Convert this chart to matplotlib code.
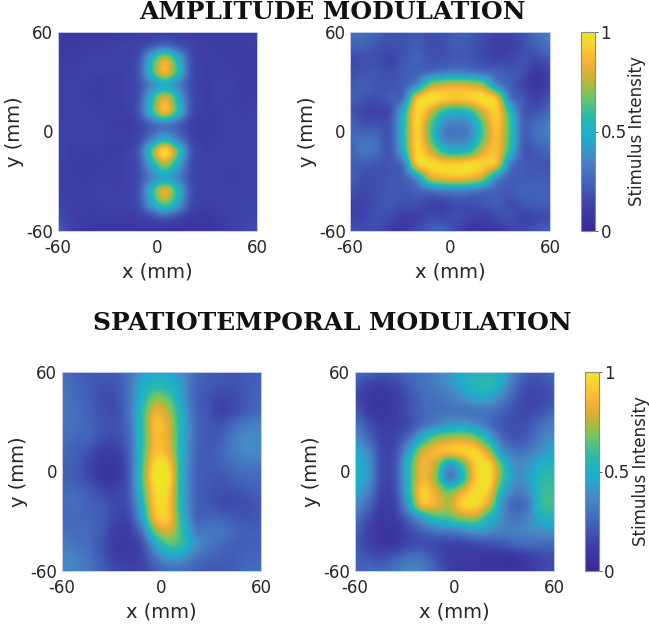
import numpy as np
import matplotlib
matplotlib.use("Agg")
import matplotlib.pyplot as plt
from matplotlib.colors import LinearSegmentedColormap

# grid positions in mm, values are stimulus intensity
grid_x = np.arange(-60, 61, 8)
grid_y = np.arange(60, -61, -8)

# top left, four spots along x=4
amp_line = [
    [.10, .10, .09, .09, .09, .10, .11, .12, .12, .12, .11, .11, .11, .11, .11, .12],
    [.10, .09, .10, .11, .12, .13, .14, .20, .26, .20, .14, .12, .11, .10, .11, .12],
    [.11, .11, .12, .13, .13, .13, .18, .50, .76, .50, .18, .12, .12, .11, .10, .12],
    [.12, .12, .13, .13, .13, .13, .20, .56, .85, .56, .19, .12, .12, .12, .10, .12],
    [.12, .13, .12, .11, .12, .13, .17, .36, .48, .36, .17, .12, .13, .13, .11, .12],
    [.12, .13, .12, .11, .12, .13, .19, .52, .80, .52, .19, .12, .13, .12, .11, .12],
    [.12, .13, .13, .12, .12, .12, .20, .55, .85, .55, .19, .12, .12, .13, .12, .13],
    [.13, .13, .13, .13, .12, .11, .14, .24, .32, .24, .13, .10, .12, .13, .13, .13],
    [.14, .13, .13, .13, .12, .12, .15, .32, .46, .32, .15, .11, .12, .13, .13, .13],
    [.14, .12, .12, .12, .11, .13, .21, .62, .97, .62, .21, .13, .13, .13, .13, .13],
    [.13, .12, .10, .11, .12, .13, .18, .47, .72, .47, .18, .13, .13, .13, .13, .13],
    [.13, .12, .11, .12, .12, .13, .17, .35, .46, .35, .17, .13, .13, .12, .13, .13],
    [.13, .12, .12, .13, .13, .13, .19, .53, .82, .53, .19, .13, .14, .13, .13, .13],
    [.14, .13, .12, .12, .13, .13, .17, .43, .63, .43, .17, .12, .13, .13, .14, .14],
    [.17, .13, .11, .11, .11, .11, .12, .16, .22, .16, .11, .09, .11, .13, .14, .15],
    [.24, .13, .10, .09, .09, .09, .09, .09, .08, .08, .07, .08, .10, .13, .15, .17],
]

# top right, square ring
amp_ring = [
    [.28, .28, .24, .20, .20, .20, .19, .20, .22, .22, .18, .16, .15, .20, .28, .34],
    [.24, .24, .20, .18, .19, .22, .18, .18, .22, .20, .16, .12, .12, .18, .24, .30],
    [.16, .18, .18, .14, .20, .24, .20, .19, .21, .20, .17, .14, .15, .18, .17, .22],
    [.18, .19, .20, .17, .22, .24, .27, .31, .33, .31, .27, .24, .21, .18, .10, .15],
    [.20, .22, .20, .19, .23, .38, .70, .78, .80, .78, .70, .38, .24, .15, .08, .14],
    [.23, .20, .18, .22, .30, .86, .98, .93, .90, .93, .98, .86, .33, .20, .13, .20],
    [.20, .15, .14, .18, .50, .94, .80, .58, .52, .58, .80, .92, .55, .22, .20, .26],
    [.24, .20, .20, .20, .54, .94, .66, .38, .34, .38, .66, .90, .60, .25, .28, .33],
    [.26, .28, .26, .20, .54, .94, .66, .36, .33, .38, .66, .88, .60, .24, .28, .32],
    [.24, .30, .28, .20, .50, .94, .80, .58, .52, .58, .80, .88, .55, .22, .22, .26],
    [.22, .22, .20, .20, .30, .88, .96, .94, .94, .96, .94, .84, .33, .22, .20, .20],
    [.22, .18, .18, .20, .23, .40, .76, .84, .86, .84, .72, .38, .24, .22, .22, .22],
    [.18, .16, .18, .20, .20, .24, .28, .32, .34, .32, .27, .24, .21, .24, .24, .24],
    [.14, .14, .18, .20, .18, .18, .14, .14, .18, .18, .20, .22, .18, .20, .22, .22],
    [.14, .15, .18, .16, .11, .12, .17, .16, .18, .14, .12, .16, .18, .14, .16, .18],
    [.20, .18, .18, .12, .11, .17, .22, .24, .15, .09, .08, .10, .14, .16, .20, .24],
]

# bottom left, vertical bar
st_line = [
    [.28, .24, .22, .21, .22, .30, .42, .48, .46, .38, .28, .22, .21, .20, .22, .24],
    [.29, .26, .22, .19, .20, .30, .47, .55, .52, .40, .26, .21, .19, .19, .22, .24],
    [.31, .27, .23, .18, .18, .30, .52, .70, .64, .44, .25, .19, .15, .17, .22, .26],
    [.31, .28, .24, .19, .18, .30, .57, .82, .74, .48, .26, .19, .14, .18, .24, .28],
    [.30, .28, .25, .20, .19, .28, .58, .88, .80, .50, .28, .21, .20, .27, .33, .34],
    [.28, .26, .24, .18, .17, .26, .57, .86, .80, .50, .28, .21, .23, .33, .37, .37],
    [.26, .23, .18, .12, .12, .24, .58, .88, .82, .50, .27, .22, .26, .33, .37, .36],
    [.24, .22, .15, .09, .09, .22, .60, .97, .92, .50, .26, .22, .24, .28, .31, .31],
    [.24, .22, .16, .09, .09, .22, .62, 1.0, .96, .50, .26, .21, .20, .24, .26, .27],
    [.26, .26, .22, .16, .14, .22, .58, .95, .92, .50, .26, .20, .18, .19, .22, .24],
    [.26, .27, .24, .21, .16, .20, .52, .92, .90, .50, .26, .21, .17, .17, .18, .21],
    [.26, .26, .25, .22, .15, .16, .44, .86, .90, .54, .27, .25, .24, .21, .20, .22],
    [.28, .27, .26, .21, .12, .12, .30, .68, .78, .58, .34, .31, .30, .25, .23, .23],
    [.33, .30, .27, .19, .11, .10, .18, .46, .62, .58, .40, .31, .26, .23, .23, .24],
    [.35, .34, .29, .21, .13, .11, .15, .30, .42, .40, .30, .25, .23, .23, .25, .26],
    [.36, .35, .31, .23, .16, .14, .15, .22, .27, .27, .24, .21, .21, .23, .27, .28],
]

# bottom right, uneven ring with side lobes
st_ring = [
    [.28, .24, .20, .22, .26, .30, .34, .40, .50, .54, .56, .50, .32, .22, .22, .26],
    [.20, .14, .12, .15, .22, .28, .32, .38, .46, .54, .56, .44, .28, .18, .18, .22],
    [.16, .10, .08, .11, .18, .26, .29, .32, .38, .44, .44, .34, .22, .15, .16, .20],
    [.22, .12, .08, .11, .18, .25, .28, .30, .30, .30, .30, .24, .18, .16, .20, .26],
    [.30, .20, .12, .12, .17, .28, .36, .42, .44, .40, .30, .21, .18, .20, .28, .34],
    [.38, .26, .14, .15, .28, .50, .68, .74, .76, .70, .50, .28, .20, .24, .34, .40],
    [.46, .36, .16, .18, .44, .76, .86, .88, .92, .94, .76, .42, .30, .32, .40, .46],
    [.50, .40, .17, .20, .54, .84, .76, .44, .60, .92, .96, .62, .38, .40, .50, .54],
    [.50, .40, .17, .20, .54, .84, .72, .34, .52, .90, .98, .64, .40, .42, .56, .58],
    [.46, .34, .15, .18, .52, .92, .82, .66, .80, .96, .92, .52, .34, .38, .58, .60],
    [.38, .26, .12, .15, .44, .84, .84, .74, .92, .96, .78, .42, .25, .32, .58, .60],
    [.30, .18, .10, .12, .26, .44, .58, .62, .70, .72, .54, .38, .30, .36, .50, .54],
    [.24, .14, .08, .09, .16, .24, .30, .32, .36, .40, .38, .34, .34, .36, .38, .40],
    [.22, .14, .09, .10, .16, .18, .16, .14, .14, .16, .18, .20, .24, .26, .26, .26],
    [.24, .20, .18, .22, .28, .28, .20, .12, .10, .10, .08, .08, .08, .12, .16, .18],
    [.24, .26, .26, .30, .36, .34, .24, .14, .09, .08, .07, .07, .07, .10, .15, .18],
]

titles = ["AMPLITUDE MODULATION", "SPATIOTEMPORAL MODULATION"]
ticks = [-60, 0, 60]
cbar_ticks = [0, 0.5, 1]
cbar_labels = ["0", "0.5", "1"]

# parula like map, taken off the colorbar
cmap = LinearSegmentedColormap.from_list("parula_ish", [
    (0.00, (0.22, 0.16, 0.58)),
    (0.12, (0.24, 0.24, 0.65)),
    (0.25, (0.26, 0.40, 0.73)),
    (0.37, (0.28, 0.54, 0.77)),
    (0.47, (0.12, 0.68, 0.80)),
    (0.57, (0.16, 0.72, 0.68)),
    (0.67, (0.42, 0.78, 0.42)),
    (0.75, (0.72, 0.72, 0.22)),
    (0.80, (0.88, 0.68, 0.22)),
    (0.87, (0.98, 0.72, 0.20)),
    (0.95, (0.97, 0.84, 0.18)),
    (1.00, (0.93, 0.90, 0.15)),
])

W, H = 649, 626
plt.rcParams["font.family"] = "DejaVu Sans"
plt.rcParams["axes.unicode_minus"] = False
fig = plt.figure(figsize=(W / 100, H / 100), dpi=100)
TICK_COLOR = "#262626"


def px_axes(x0, y0, x1, y1):
    # pixel box, y counted from the top
    return fig.add_axes([x0 / W, 1 - y1 / H, (x1 - x0) / W, (y1 - y0) / H])


def heat(box, values):
    ax = px_axes(*box)
    step = grid_x[1] - grid_x[0]
    im = ax.imshow(np.array(values), cmap=cmap, vmin=0, vmax=1, interpolation="catrom",
                   extent=[grid_x[0] - step / 2, grid_x[-1] + step / 2,
                           grid_y[-1] - step / 2, grid_y[0] + step / 2],
                   aspect="auto", origin="upper")
    ax.set_xlim(-60, 60)
    ax.set_ylim(-60, 60)
    ax.set_xticks(ticks)
    ax.set_yticks(ticks)
    ax.tick_params(length=0, labelsize=12, colors=TICK_COLOR)
    ax.tick_params(axis="x", pad=6)
    ax.tick_params(axis="y", pad=3)
    ax.set_xlabel("x (mm)", fontsize=14, color=TICK_COLOR, labelpad=4)
    ax.set_ylabel("y (mm)", fontsize=14, color=TICK_COLOR, labelpad=1.5)
    for s in ax.spines.values():
        s.set_color("#c4cdf0")
        s.set_linewidth(0.7)
    return im


def cbar(box, im):
    cax = px_axes(*box)
    cb = fig.colorbar(im, cax=cax)
    cb.set_ticks(cbar_ticks, labels=cbar_labels)
    cax.tick_params(length=2, width=0.5, labelsize=12, pad=2, colors=TICK_COLOR)
    cb.outline.set_edgecolor("#8a8a8a")
    cb.outline.set_linewidth(0.8)
    cb.set_label("Stimulus Intensity", fontsize=12, color=TICK_COLOR, labelpad=1)


im1 = heat((57.5, 32, 257, 231), amp_line)
im2 = heat((350, 32, 550, 231), amp_ring)
im3 = heat((61.5, 372, 261, 571), st_line)
im4 = heat((354.5, 372, 554, 571), st_ring)
cbar((581, 32, 595, 231), im2)
cbar((585, 372, 598.5, 571), im4)

fig.text(332.5 / W, 1 - 12 / H, titles[0], ha="center", va="center", fontsize=17.9,
         family="DejaVu Serif", fontweight="bold", color="#111111")
fig.text(332.5 / W, 1 - 323 / H, titles[1], ha="center", va="center", fontsize=17.9,
         family="DejaVu Serif", fontweight="bold", color="#111111")

fig.savefig("out.png", dpi=100)
